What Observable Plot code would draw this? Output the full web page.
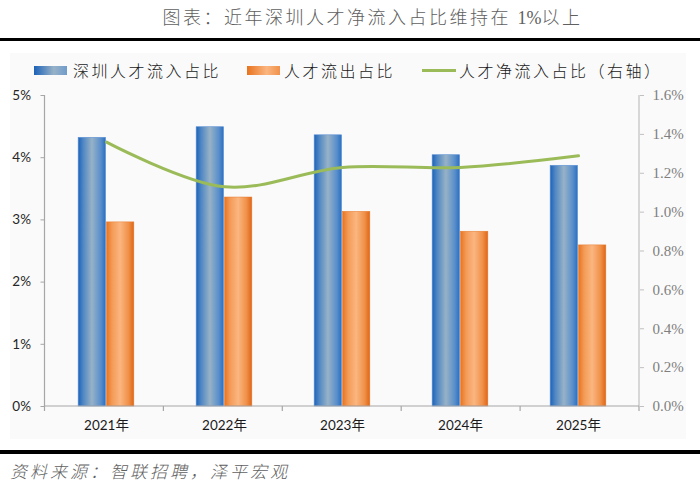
<!DOCTYPE html>
<html>
<head>
<meta charset="utf-8">
<script src="https://cdn.jsdelivr.net/npm/d3@7"></script>
<script src="https://cdn.jsdelivr.net/npm/@observablehq/plot@0.6"></script>
<style>
  body { margin:0; width:700px; height:490px; position:relative; background:#fff; overflow:hidden; }
  .abs { position:absolute; }
  .cjk { font-family:"Noto Sans CJK SC", "Noto Sans", sans-serif; font-weight:300; }
  .leg { top:59px; height:22px; line-height:22px; font-size:16px; letter-spacing:2.5px; color:#1a1a1a; white-space:nowrap; }
</style>
</head>
<body>
<svg width="0" height="0" style="position:absolute">
  <defs>
    <linearGradient id="gBlue" x1="0" x2="1" y1="0" y2="0">
      <stop offset="0" stop-color="#1c62b8"/>
      <stop offset="0.18" stop-color="#4f86c4"/>
      <stop offset="0.5" stop-color="#97b2c7"/>
      <stop offset="0.82" stop-color="#5a8fcb"/>
      <stop offset="1" stop-color="#2a6fc2"/>
    </linearGradient>
    <linearGradient id="gOrange" x1="0" x2="1" y1="0" y2="0">
      <stop offset="0" stop-color="#e8731f"/>
      <stop offset="0.2" stop-color="#f39a56"/>
      <stop offset="0.5" stop-color="#fbb680"/>
      <stop offset="0.8" stop-color="#f0914a"/>
      <stop offset="1" stop-color="#df6617"/>
    </linearGradient>
  </defs>
</svg>

<div class="abs" style="left:10px; top:53px; width:676px; height:386px; background:#fafafa;"></div>

<div id="title" class="abs cjk" style="left:45px; right:0; top:0; height:32px; line-height:32px; text-align:center; font-size:18px; letter-spacing:2.5px; color:#606060;"></div>
<div class="abs" style="left:0; top:37.5px; width:700px; height:3.6px; background:#000;"></div>

<div id="sw1" class="abs" style="left:34px; top:66px; width:33px; height:9px; background:linear-gradient(to right,#1c62b8,#97b2c7 60%,#6f9bcc);"></div>
<div id="lg1" class="abs cjk leg" style="left:73px;"></div>
<div id="sw2" class="abs" style="left:247px; top:66px; width:33px; height:9px; background:linear-gradient(to right,#e8731f,#fbb680 60%,#f0914a);"></div>
<div id="lg2" class="abs cjk leg" style="left:284px;"></div>
<div id="sw3" class="abs" style="left:422px; top:69px; width:34px; height:3px; background:#9bbb59;"></div>
<div id="lg3" class="abs cjk leg" style="left:459px;"></div>

<div id="chart" class="abs" style="left:0; top:85px;"></div>

<div class="abs" style="left:0; top:450px; width:700px; height:3.6px; background:#000;"></div>
<div id="source" class="abs cjk" style="left:10px; top:460px; height:22px; line-height:22px; font-size:17px; letter-spacing:3px; font-style:italic; color:#606060;"></div>

<script>
// ---- data ----
const titleText = "图表：近年深圳人才净流入占比维持在 1%以上";
const sourceText = "资料来源：智联招聘，泽平宏观";
const seriesNames = ["深圳人才流入占比", "人才流出占比", "人才净流入占比（右轴）"];
const years = ["2021年", "2022年", "2023年", "2024年", "2025年"];
const inflow = [4.32, 4.49, 4.36, 4.04, 3.87];   // % (left axis)
const outflow = [2.96, 3.36, 3.13, 2.81, 2.59];  // % (left axis)
const netInflow = [1.36, 1.13, 1.23, 1.23, 1.29]; // % (right axis)
const leftTicks = [0, 1, 2, 3, 4, 5];
const leftTickLabels = ["0%", "1%", "2%", "3%", "4%", "5%"];
const rightTicks = [0, 0.2, 0.4, 0.6, 0.8, 1.0, 1.2, 1.4, 1.6];
const rightTickLabels = ["0.0%", "0.2%", "0.4%", "0.6%", "0.8%", "1.0%", "1.2%", "1.4%", "1.6%"];

// ---- text ----
document.getElementById("title").innerHTML =
  titleText.replace("1%", '<span style="font-family:\'Liberation Serif\',serif;letter-spacing:0">1%</span>');
document.getElementById("source").textContent = sourceText;
document.getElementById("lg1").textContent = seriesNames[0];
document.getElementById("lg2").textContent = seriesNames[1];
document.getElementById("lg3").textContent = seriesNames[2];

// ---- tables ----
const leftMax = leftTicks[leftTicks.length - 1];
const rightMax = rightTicks[rightTicks.length - 1];
const k = leftMax / rightMax; // right-axis to left-axis units
const rows = years.map((year, i) => ({year, inflow: inflow[i], outflow: outflow[i], net: netInflow[i]}));
const leftMap = new Map(leftTicks.map((v, i) => [v, leftTickLabels[i]]));
const rightScaled = rightTicks.map(v => v * k);
const rightMap = new Map(rightScaled.map((v, i) => [v, rightTickLabels[i]]));

const W = 700, H = 363, mL = 44.5, mR = 61, mT = 10, mB = 42;
const bandW = (W - mL - mR) / years.length;
const barW = 28.3;
const inset = (bandW - barW) / 2;

function axisLines(index, scales, values, dims) {
  const ns = "http://www.w3.org/2000/svg";
  const g = document.createElementNS(ns, "g");
  const x0 = dims.marginLeft, x1 = dims.width - dims.marginRight;
  const yTop = dims.marginTop, yBot = dims.height - dims.marginBottom;
  const line = (xa, ya, xb, yb, c) => {
    const l = document.createElementNS(ns, "line");
    l.setAttribute("x1", xa); l.setAttribute("y1", ya);
    l.setAttribute("x2", xb); l.setAttribute("y2", yb);
    l.setAttribute("stroke", c); l.setAttribute("stroke-width", 1.2);
    g.appendChild(l);
  };
  line(x0, yTop, x0, yBot, "#a6a6a6");
  line(x1, yTop, x1, yBot, "#c0c0c0");
  line(x0, yBot, x1, yBot, "#a6a6a6");
  const n = years.length;
  for (let i = 0; i <= n; i++) {
    const xx = x0 + i * (x1 - x0) / n;
    line(xx, yBot, xx, yBot + 5, "#a6a6a6");
  }
  return g;
}

const chart = Plot.plot({
  width: W, height: H,
  marginLeft: mL, marginRight: mR, marginTop: mT, marginBottom: mB,
  style: {background: "transparent", overflow: "visible"},
  x: {domain: years, padding: 0, axis: null, label: null},
  y: {domain: [0, leftMax], axis: null, label: null},
  marks: [
    Plot.barY(rows, {x: "year", y: "inflow", fill: "url(#gBlue)", insetLeft: inset, insetRight: inset, dx: -barW / 2,
      stroke: "#5d92d4", strokeWidth: 0.6}),
    Plot.barY(rows, {x: "year", y: "outflow", fill: "url(#gOrange)", insetLeft: inset, insetRight: inset, dx: barW / 2,
      stroke: "#e57a2e", strokeWidth: 0.5}),
    axisLines,
    Plot.lineY(rows, {x: "year", y: d => d.net * k, stroke: "#9bbb59", strokeWidth: 3, curve: "catmull-rom"}),
    Plot.axisY({anchor: "left", ticks: leftTicks, tickFormat: d => leftMap.get(d), tickSize: 4, tickPadding: 10,
      label: null, stroke: "#a6a6a6", color: "#262626", fontSize: 13.5, fontFamily: "Lato, 'Open Sans', sans-serif"}),
    Plot.axisY({anchor: "right", ticks: rightScaled, tickFormat: d => rightMap.get(d), tickSize: 4, tickPadding: 9,
      label: null, stroke: "#c0c0c0", color: "#7f7f7f", fontSize: 15, fontFamily: "'Liberation Serif', serif"}),
    Plot.axisX({anchor: "bottom", tickSize: 0, tickPadding: 14, label: null, color: "#1a1a1a", fontSize: 13.5,
      fontFamily: "Lato, 'Noto Sans CJK SC', sans-serif"})
  ]
});
document.getElementById("chart").appendChild(chart);
</script>
</body>
</html>
